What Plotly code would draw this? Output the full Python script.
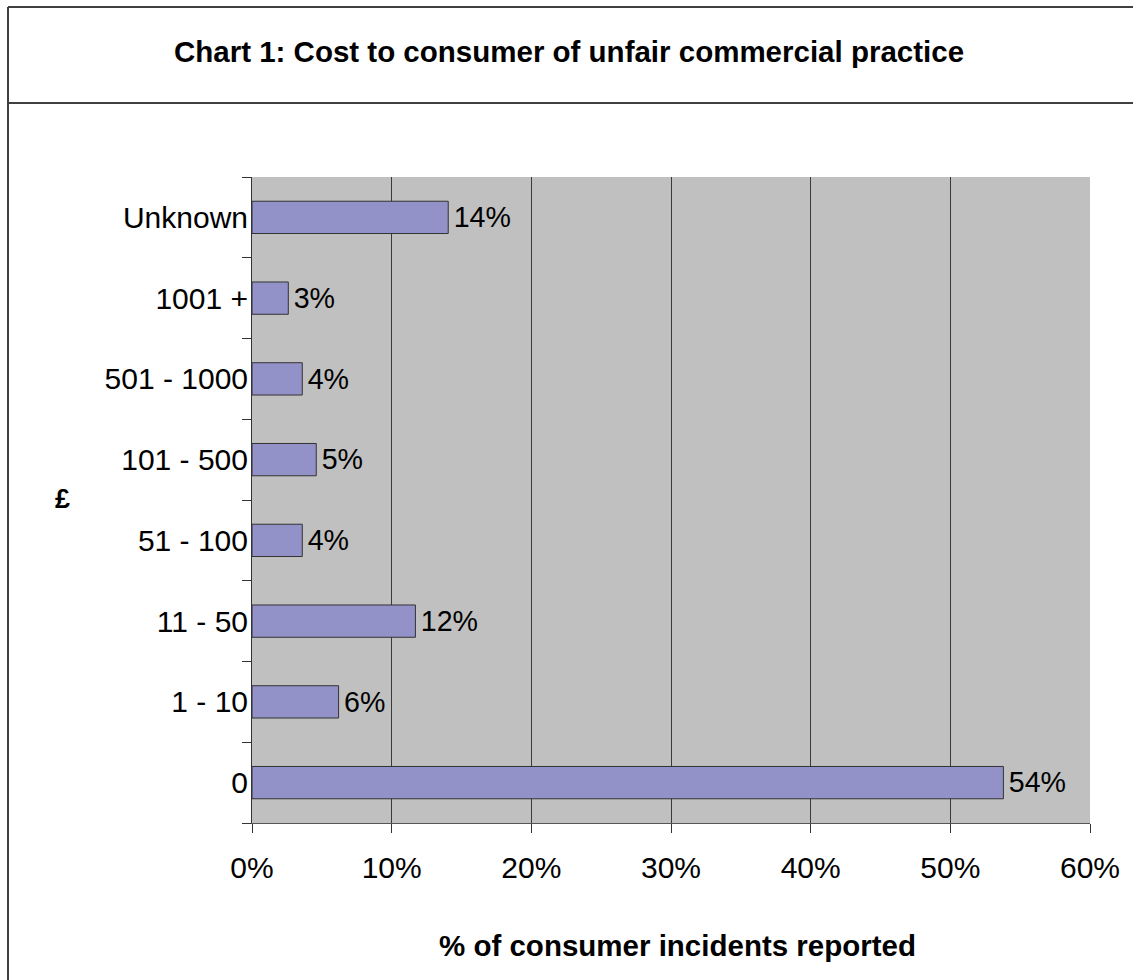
import plotly.graph_objects as go

categories = ["0", "1 - 10", "11 - 50", "51 - 100", "101 - 500", "501 - 1000", "1001 +", "Unknown"]
values = [0.538, 0.062, 0.117, 0.036, 0.046, 0.036, 0.026, 0.1405]
x_ticks = [0, 0.1, 0.2, 0.3, 0.4, 0.5, 0.6]
x_tick_labels = ["0%", "10%", "20%", "30%", "40%", "50%", "60%"]

W, H = 1133, 980
L, R, T, B = 252, 1090, 177, 823
pw, ph = R - L, B - T

def px(x):
    return (x - L) / pw

def py(y):
    return (B - y) / ph

FONT = "Liberation Sans, Arial, sans-serif"

fig = go.Figure(go.Bar(
    x=values, y=categories, orientation="h", width=0.4,
    marker=dict(color="#9292C8", line=dict(color="#333333", width=1)),
    texttemplate="\u200a%{x:.0%}", textposition="outside",
    textfont=dict(family=FONT, size=31, color="#000000"),
    cliponaxis=False,
))

fig.update_layout(
    width=W, height=H,
    margin=dict(l=L, r=W - R, t=T, b=H - B, pad=0),
    paper_bgcolor="white", plot_bgcolor="#C0C0C0",
    showlegend=False,
    font=dict(family=FONT, color="#000000"),
    title=dict(text="<b>Chart 1: Cost to consumer of unfair commercial practice</b>",
               x=(569 - L) / pw, xref="paper", xanchor="center",
               y=1 - 52 / H, yref="container", yanchor="middle",
               font=dict(family=FONT, size=29.5, color="#000000")),
    bargap=0.6,
)

fig.update_xaxes(range=[0, 0.6], tickvals=x_ticks, ticktext=x_tick_labels,
                 showgrid=True, gridcolor="#3a3a3a", gridwidth=1,
                 showline=True, linecolor="#555555", linewidth=1,
                 ticks="outside", ticklen=9, tickcolor="#333333",
                 ticklabelstandoff=9,
                 tickfont=dict(family=FONT, size=30, color="#000000"),
                 zeroline=False, fixedrange=True)
fig.update_yaxes(type="category", categoryorder="array", categoryarray=categories,
                 range=[-0.5, 7.5],
                 showgrid=False, showline=True, linecolor="#333333", linewidth=1,
                 ticks="outside", ticklen=9, tickcolor="#333333", tickson="boundaries",
                 ticklabelstandoff=-3,
                 tickfont=dict(family=FONT, size=30, color="#000000"),
                 zeroline=False, fixedrange=True)

fig.add_annotation(text="<b>% of consumer incidents reported</b>", xref="paper", yref="paper",
                   x=px(677), y=py(945), xanchor="center", yanchor="middle", showarrow=False,
                   font=dict(family=FONT, size=29.5, color="#000000"))
fig.add_annotation(text="<b>£</b>", xref="paper", yref="paper",
                   x=px(62), y=py(499), xanchor="center", yanchor="middle", showarrow=False,
                   font=dict(family=FONT, size=27, color="#000000"))

line_style = dict(color="#404040", width=2)
fig.add_shape(type="line", xref="paper", yref="paper", x0=px(8), x1=px(1140), y0=py(7), y1=py(7), line=line_style)
fig.add_shape(type="line", xref="paper", yref="paper", x0=px(8), x1=px(1140), y0=py(103), y1=py(103), line=line_style)
fig.add_shape(type="line", xref="paper", yref="paper", x0=px(8), x1=px(8), y0=py(7), y1=py(990), line=line_style)

fig.write_html("out.html")
